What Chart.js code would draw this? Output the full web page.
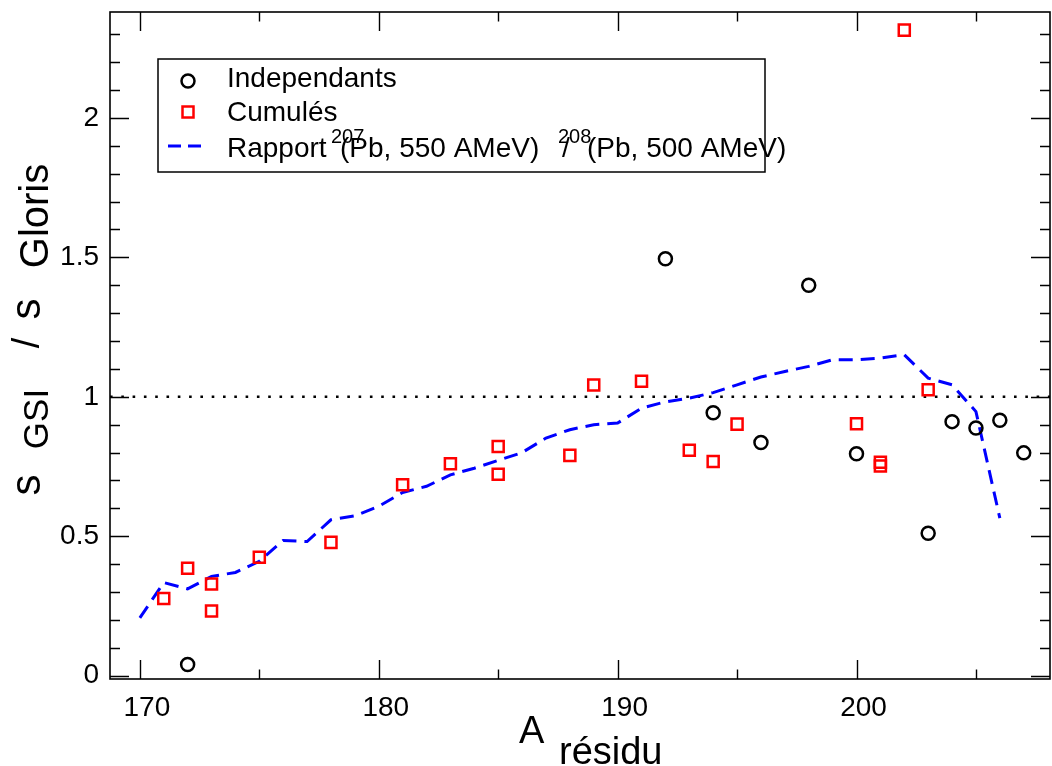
<!DOCTYPE html>
<html>
<head>
<meta charset="utf-8">
<script src="https://cdn.jsdelivr.net/npm/chart.js@4.4.1/dist/chart.umd.min.js"></script>
<style>
  html, body { margin: 0; padding: 0; background: #fff; }
  #wrap { width: 1052px; height: 766px; }
</style>
</head>
<body>
<div id="wrap"><canvas id="ratioChart"></canvas></div>
<script>
// Independants (circles)
let indepA = [172, 192, 194, 196, 198, 200, 203, 204, 205, 206, 207];
let indepR = [0.04, 1.495, 0.943, 0.836, 1.40, 0.796, 0.511, 0.911, 0.888, 0.916, 0.799];

// Cumulés (squares)
let cumulA = [171, 172, 173, 173, 175, 178, 181, 183, 185, 185, 188, 189, 191, 193, 194, 195, 200, 201, 201, 202, 203];
let cumulR = [0.277, 0.385, 0.329, 0.232, 0.425, 0.478, 0.685, 0.760, 0.822, 0.722, 0.790, 1.042, 1.056, 0.808, 0.768, 0.902, 0.903, 0.765, 0.752, 2.315, 1.025];

// Rapport 207Pb / 208Pb (dashed line)
let ratioA = [170, 171, 172, 173, 174, 175, 176, 177, 178, 179,
              180, 181, 182, 183, 184, 185, 186, 187, 188, 189,
              190, 191, 192, 193, 194, 195, 196, 197, 198, 199,
              200, 201, 202, 203, 204, 205, 206];
let ratioR = [0.207, 0.334, 0.311, 0.356, 0.370, 0.410, 0.485, 0.481, 0.559, 0.573,
              0.607, 0.657, 0.679, 0.720, 0.744, 0.772, 0.800, 0.852, 0.882, 0.900,
              0.906, 0.959, 0.982, 0.995, 1.015, 1.043, 1.071, 1.091, 1.109, 1.133,
              1.133, 1.139, 1.151, 1.067, 1.043, 0.947, 0.565];

let refLevel = 1;

// axes
let xMin = 168.75, xMax = 208.1;
let yMin = -0.012, yMax = 2.38;
let xTicks = [170, 180, 190, 200];
let xMinorTicks = [175, 185, 195, 205];
let yTicks = [0, 0.5, 1, 1.5, 2];
let yTickLabels = ['0', '0.5', '1', '1.5', '2'];

let yMinorTicks = [];
for (let i = 1; i <= 23; i++) {
  if (i % 5 !== 0) yMinorTicks.push(i / 10);
}

let textFont = '"Liberation Sans", Arial, sans-serif';

function toPoints(xs, ys) {
  let pts = [];
  for (let i = 0; i < xs.length; i++) {
    pts.push({ x: xs[i], y: ys[i] });
  }
  return pts;
}

// rotated piece of the y title: baseline at x = bx, centred on y = cy
function drawRot(ctx, text, bx, cy, size) {
  ctx.save();
  ctx.translate(bx, cy);
  ctx.rotate(-Math.PI / 2);
  ctx.font = size + 'px ' + textFont;
  ctx.textAlign = 'center';
  ctx.textBaseline = 'alphabetic';
  ctx.fillStyle = '#000';
  ctx.fillText(text, 0, 0);
  ctx.restore();
}

let framePlugin = {
  id: 'framePlugin',
  afterDraw(chart) {
    let ctx = chart.ctx;
    let a = chart.chartArea;
    let xs = chart.scales.x;
    let ys = chart.scales.y;

    ctx.save();
    ctx.strokeStyle = '#000';
    ctx.lineWidth = 1.6;
    ctx.strokeRect(a.left, a.top, a.right - a.left, a.bottom - a.top);

    // inward tick marks on all four sides
    ctx.lineWidth = 1.4;
    ctx.beginPath();
    function xTick(v, len) {
      let px = Math.round(xs.getPixelForValue(v)) + 0.5;
      ctx.moveTo(px, a.bottom); ctx.lineTo(px, a.bottom - len);
      ctx.moveTo(px, a.top); ctx.lineTo(px, a.top + len);
    }
    function yTick(v, len) {
      let py = Math.round(ys.getPixelForValue(v)) + 0.5;
      ctx.moveTo(a.left, py); ctx.lineTo(a.left + len, py);
      ctx.moveTo(a.right, py); ctx.lineTo(a.right - len, py);
    }
    xTicks.forEach(v => xTick(v, 19));
    xMinorTicks.forEach(v => xTick(v, 9.5));
    yTicks.forEach(v => yTick(v, 19));
    yMinorTicks.forEach(v => yTick(v, 10));
    ctx.stroke();

    // legend box
    ctx.fillStyle = '#000';
    ctx.lineWidth = 1.5;
    ctx.strokeRect(158, 59, 607, 113);

    ctx.lineWidth = 2.5;
    ctx.beginPath();
    ctx.arc(188, 81, 6.5, 0, Math.PI * 2);
    ctx.stroke();

    ctx.strokeStyle = '#ff0000';
    ctx.strokeRect(182.5, 106.5, 11, 11);

    ctx.strokeStyle = '#0000ff';
    ctx.lineWidth = 3;
    ctx.setLineDash([13, 7]);
    ctx.beginPath();
    ctx.moveTo(168, 146);
    ctx.lineTo(207, 146);
    ctx.stroke();
    ctx.setLineDash([]);

    ctx.fillStyle = '#000';
    ctx.textAlign = 'left';
    ctx.textBaseline = 'alphabetic';
    ctx.font = '28px ' + textFont;
    ctx.fillText('Independants', 227, 87);
    ctx.fillText('Cumulés', 227, 121);
    ctx.fillText('Rapport', 227, 157);
    ctx.fillText('(Pb, 550 AMeV)', 340, 157);
    ctx.fillText('/', 562, 157);
    ctx.fillText('(Pb, 500 AMeV)', 587, 157);
    ctx.font = '20px ' + textFont;
    ctx.fillText('207', 331, 143);
    ctx.fillText('208', 558, 143);

    // x title
    ctx.font = '38px ' + textFont;
    ctx.fillText('A', 519, 743);
    ctx.fillText('résidu', 559, 764);

    // y title
    drawRot(ctx, 's', 40, 485, 42);
    drawRot(ctx, 'GSI', 48, 419, 35);
    drawRot(ctx, '/', 39, 343, 38);
    drawRot(ctx, 's', 40, 309, 42);
    drawRot(ctx, 'Gloris', 48, 216, 40);

    ctx.restore();
  }
};

let chart = new Chart(document.querySelector('#ratioChart'), {
  type: 'scatter',
  data: {
    datasets: [
      {
        label: 'Independants',
        data: toPoints(indepA, indepR),
        pointStyle: 'circle',
        pointRadius: 6.5,
        pointBorderWidth: 2.5,
        borderColor: '#000',
        backgroundColor: 'rgba(0,0,0,0)'
      },
      {
        label: 'Cumulés',
        data: toPoints(cumulA, cumulR),
        pointStyle: 'rect',
        pointRadius: 7.8,
        pointBorderWidth: 2.5,
        borderColor: '#ff0000',
        backgroundColor: 'rgba(0,0,0,0)'
      },
      {
        label: 'Rapport',
        data: toPoints(ratioA, ratioR),
        showLine: true,
        pointRadius: 0,
        borderColor: '#0000ff',
        borderWidth: 3,
        borderDash: [14, 8],
        tension: 0
      },
      {
        label: 'ref',
        data: [{ x: xMin, y: refLevel }, { x: xMax, y: refLevel }],
        showLine: true,
        pointRadius: 0,
        borderColor: '#000',
        borderWidth: 2.6,
        borderDash: [2.6, 8.7],
        borderCapStyle: 'butt'
      }
    ]
  },
  options: {
    responsive: true,
    maintainAspectRatio: false,
    animation: false,
    devicePixelRatio: 1,
    layout: {
      autoPadding: false,
      padding: { top: 12, right: 2, left: 0, bottom: 0 }
    },
    plugins: {
      legend: { display: false },
      tooltip: { enabled: false }
    },
    scales: {
      x: {
        type: 'linear',
        min: xMin,
        max: xMax,
        grid: { display: false },
        border: { display: false },
        afterFit: function (s) {
          s.height = 87;
          s.paddingLeft = 0;
          s.paddingRight = 0;
        },
        afterBuildTicks: function (s) { s.ticks = xTicks.map(v => ({ value: v })); },
        ticks: {
          padding: 4,
          labelOffset: 7,
          maxRotation: 0,
          color: '#000',
          font: { family: textFont, size: 28 },
          callback: function (v) { return String(v); }
        }
      },
      y: {
        type: 'linear',
        min: yMin,
        max: yMax,
        grid: { display: false },
        border: { display: false },
        afterFit: function (s) {
          s.width = 110;
          s.paddingTop = 0;
          s.paddingBottom = 0;
        },
        afterBuildTicks: function (s) { s.ticks = yTicks.map(v => ({ value: v })); },
        ticks: {
          padding: 3,
          color: '#000',
          font: { family: textFont, size: 28 },
          callback: function (v) {
            let i = yTicks.indexOf(v);
            return i >= 0 ? yTickLabels[i] : '';
          }
        }
      }
    }
  },
  plugins: [framePlugin]
});
</script>
</body>
</html>
